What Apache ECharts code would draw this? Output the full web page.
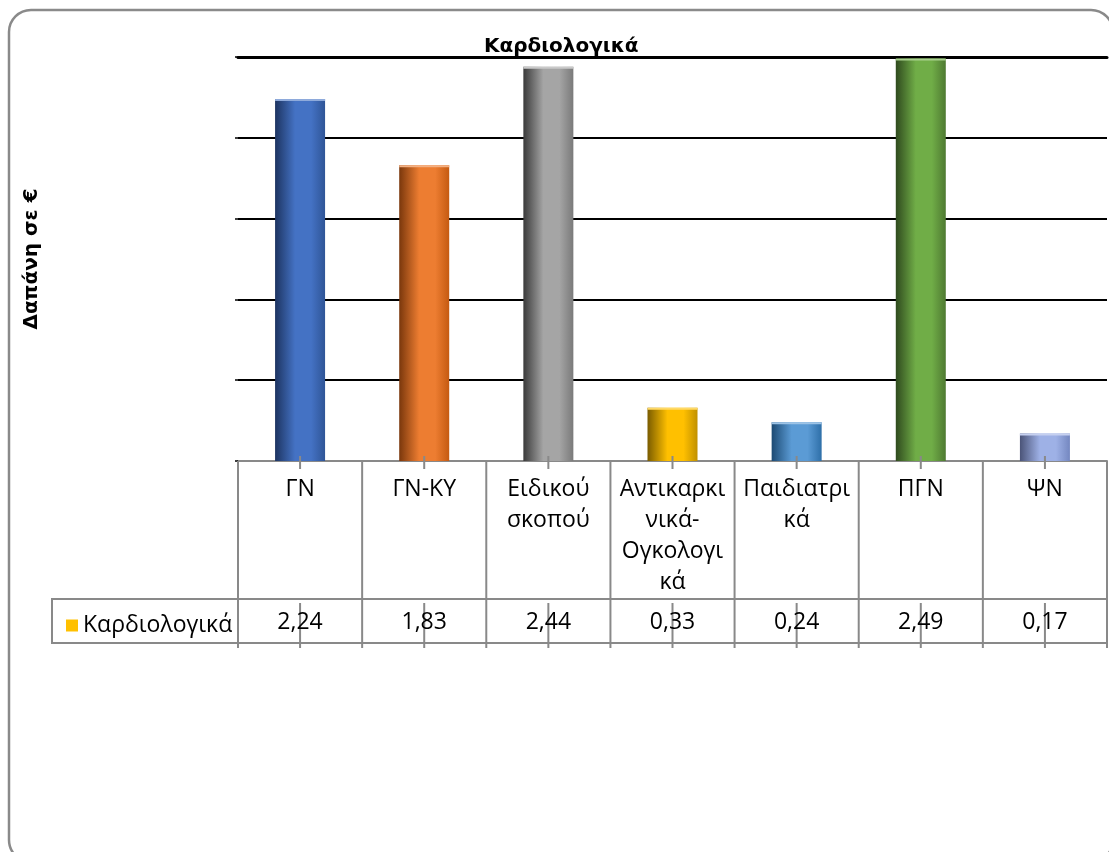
<!DOCTYPE html>
<html>
<head>
<meta charset="utf-8">
<script src="https://cdn.jsdelivr.net/npm/echarts@6/dist/echarts.min.js"></script>
<style>
  html, body { margin: 0; padding: 0; background: #fff; }
  #chart { width: 1109px; height: 852px; }
</style>
</head>
<body>
<div id="chart"></div>
<script>
// Cardiology spending per hospital type
const categories = ['ΓΝ', 'ΓΝ-ΚΥ', 'Ειδικού σκοπού', 'Αντικαρκινικά-Ογκολογικά', 'Παιδιατρικά', 'ΠΓΝ', 'ΨΝ'];
const categoryLabels = ['ΓΝ', 'ΓΝ-ΚΥ', 'Ειδικού\nσκοπού', 'Αντικαρκι\nνικά-\nΟγκολογι\nκά', 'Παιδιατρι\nκά', 'ΠΓΝ', 'ΨΝ'];
const seriesName = 'Καρδιολογικά';
const values = [2.24, 1.83, 2.44, 0.33, 0.24, 2.49, 0.17];
const yTicks = [0, 0.5, 1, 1.5, 2, 2.5];

// shading per bar: dark edge, body, right edge, top highlight
const palette = [
  ['#1d3461', '#4472c4', '#2f5597', '#8eaadb'],
  ['#7a370c', '#ed7d31', '#c55a11', '#f4b183'],
  ['#3a3a3a', '#a5a5a5', '#7a7a7a', '#c9c9c9'],
  ['#7a5c00', '#ffc000', '#c09000', '#ffd966'],
  ['#1c4a73', '#5b9bd5', '#2e6fa8', '#9dc3e6'],
  ['#2f4a1e', '#70ad47', '#4f7a32', '#a9d18e'],
  ['#4b5478', '#9eb1e6', '#7487c0', '#c5d0f0']
];

const FONT = '"Open Sans", "Noto Sans", sans-serif';
const BOLD_FONT = '"DejaVu Sans", Verdana, sans-serif';
const GRID_COLOR = '#898989';
const BAR_WIDTH = 50;

function shade(c) {
  return new echarts.graphic.LinearGradient(0, 0, 1, 0, [
    { offset: 0, color: c[0] },
    { offset: 0.4, color: c[1] },
    { offset: 0.72, color: c[1] },
    { offset: 1, color: c[2] }
  ]);
}

const chart = echarts.init(document.getElementById('chart'), null, { renderer: 'canvas' });

function fmt(v) { return v.toFixed(2).replace('.', ','); }

// data table under the plot (laid out from the category axis) and bar top highlights
function renderTable(params, api) {
  const idx = api.value(0);
  const base = api.coord([idx, 0]);
  const top = api.coord([idx, api.value(1)]);
  const x = base[0], y = base[1];
  const bw = api.size([1, 0])[0];
  const left = x - bw / 2, right = x + bw / 2;
  const line = (x1, y1, x2, y2) => ({
    type: 'line', shape: { x1, y1, x2, y2 },
    style: { stroke: GRID_COLOR, lineWidth: 2 }
  });
  const children = [
    {
      type: 'rect',
      shape: { x: x - BAR_WIDTH / 2, y: top[1], width: BAR_WIDTH, height: 2 },
      style: { fill: palette[idx][3] }
    },
    line(left, y, left, y + 187),
    line(left, y + 138, right, y + 138),
    line(left, y + 182, right, y + 182),
    line(x, y - 5, x, y + 8),
    line(x, y + 142, x, y + 187),
    {
      type: 'text',
      style: {
        text: fmt(values[idx]), x: x, y: y + 161,
        align: 'center', verticalAlign: 'middle',
        font: '23px ' + FONT, fill: '#000'
      },
      z2: 5
    }
  ];
  if (idx === categories.length - 1) children.push(line(right, y, right, y + 187));
  return { type: 'group', children };
}

const option = {
  animation: false,
  title: {
    text: seriesName,
    left: 484, top: 36,
    padding: 0,
    textStyle: { fontFamily: BOLD_FONT, fontWeight: 'bold', fontSize: 20, lineHeight: 22, color: '#000' }
  },
  legend: {
    data: [seriesName],
    left: 61, top: 609,
    icon: 'rect', itemWidth: 12, itemHeight: 12, itemGap: 9,
    textStyle: { fontFamily: FONT, fontSize: 23, color: '#000' }
  },
  grid: { left: 238, right: 2, top: 57, bottom: 391, containLabel: false },
  xAxis: [
    {
      type: 'category',
      data: categories,
      axisLine: { lineStyle: { color: GRID_COLOR, width: 2 } },
      axisTick: { show: false },
      axisLabel: {
        interval: 0,
        margin: 13,
        verticalAlign: 'top',
        lineHeight: 31,
        fontFamily: FONT, fontSize: 23, color: '#000',
        formatter: (v, i) => categoryLabels[i]
      }
    },
    {
      type: 'category',
      position: 'top',
      data: categories,
      axisLine: { lineStyle: { color: '#000', width: 3 } },
      axisTick: { show: false },
      axisLabel: { show: false }
    }
  ],
  yAxis: {
    type: 'value',
    min: yTicks[0], max: yTicks[yTicks.length - 1], interval: 0.5,
    name: 'Δαπάνη σε €',
    nameLocation: 'middle',
    nameRotate: 90,
    nameGap: 196,
    nameTextStyle: { fontFamily: BOLD_FONT, fontWeight: 'bold', fontSize: 20, color: '#000' },
    axisLine: { show: false },
    axisTick: { show: true, length: 3, lineStyle: { color: '#000', width: 1.5 } },
    axisLabel: { show: false },
    splitLine: { lineStyle: { color: '#000', width: 2 } }
  },
  series: [
    {
      name: seriesName,
      type: 'bar',
      barWidth: BAR_WIDTH,
      itemStyle: { color: '#ffc000' },
      data: values.map((v, i) => ({ value: v, itemStyle: { color: shade(palette[i]) } })),
      z: 3
    },
    {
      type: 'custom',
      name: 'table',
      silent: true,
      clip: false,
      renderItem: renderTable,
      data: values.map((v, i) => [i, v]),
      encode: { x: 0, y: 1 },
      z: 4
    }
  ],
  graphic: [
    {
      type: 'rect',
      shape: { x: 9, y: 10, width: 1104, height: 852, r: 22 },
      style: { fill: 'none', stroke: '#8a8a8a', lineWidth: 2.5 },
      z: -10, silent: true
    },
    {
      type: 'rect',
      shape: { x: 52, y: 599, width: 186, height: 44 },
      style: { fill: 'none', stroke: GRID_COLOR, lineWidth: 2 },
      silent: true
    }
  ]
};

chart.setOption(option);
</script>
</body>
</html>
